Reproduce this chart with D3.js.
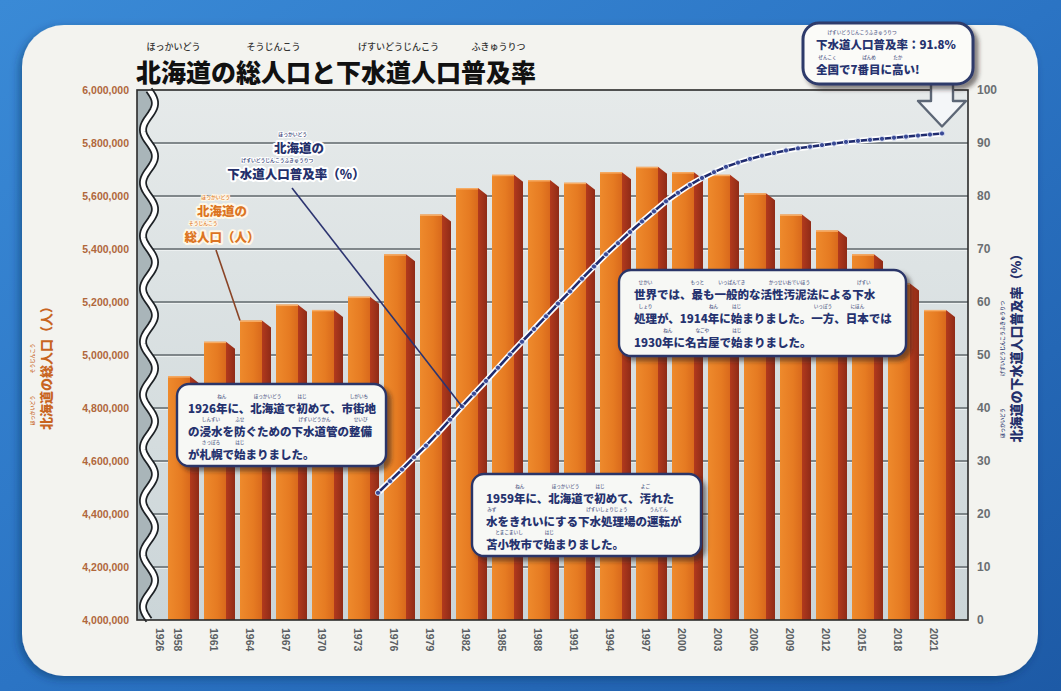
<!DOCTYPE html>
<html>
<head>
<meta charset="utf-8">
<script src="https://cdn.jsdelivr.net/npm/d3@7"></script>
<style>
  body { margin: 0; background: #2a72c2; }
  svg { display: block; }
</style>
</head>
<body>
<script>
// ---- data ----------------------------------------------------------------
const barYears = [1958, 1961, 1964, 1967, 1970, 1973, 1976, 1979, 1982, 1985, 1988,
                  1991, 1994, 1997, 2000, 2003, 2006, 2009, 2012, 2015, 2018, 2021];
const population = [4920000, 5050000, 5130000, 5190000, 5170000, 5220000, 5380000, 5530000,
                    5630000, 5680000, 5660000, 5650000, 5690000, 5710000, 5690000, 5680000,
                    5610000, 5530000, 5470000, 5380000, 5270000, 5170000];
const rateYears = [1974, 1975, 1976, 1977, 1978, 1979, 1980, 1981, 1982, 1983, 1984, 1985,
                   1986, 1987, 1988, 1989, 1990, 1991, 1992, 1993, 1994, 1995, 1996, 1997,
                   1998, 1999, 2000, 2001, 2002, 2003, 2004, 2005, 2006, 2007, 2008, 2009,
                   2010, 2011, 2012, 2013, 2014, 2015, 2016, 2017, 2018, 2019, 2020, 2021];
const sewerRate = [24.0, 26.2, 28.4, 30.7, 32.9, 35.3, 37.8, 40.3, 42.7, 45.1, 47.6, 50.1,
                   52.5, 54.9, 57.3, 59.7, 62.0, 64.4, 66.7, 69.0, 71.1, 73.2, 75.2, 77.1,
                   79.0, 80.6, 82.1, 83.4, 84.5, 85.5, 86.3, 87.0, 87.6, 88.1, 88.6, 89.0,
                   89.3, 89.6, 89.9, 90.2, 90.4, 90.6, 90.8, 91.0, 91.2, 91.4, 91.6, 91.8];
const breakYearLabel = "1926";
const leftTicks = [4000000, 4200000, 4400000, 4600000, 4800000, 5000000,
                   5200000, 5400000, 5600000, 5800000, 6000000];
const rightTicks = [0, 10, 20, 30, 40, 50, 60, 70, 80, 90, 100];

// ---- layout ----------------------------------------------------------------
const W = 1061, H = 691;
const plot = { l: 137, r: 968, t: 90, b: 620 };
const JP = "'Noto Sans CJK JP','Noto Sans',sans-serif";
const NUM = "'Liberation Sans',Arial,sans-serif";
const NAVY = "#24306b";

const svg = d3.select("body").append("svg").attr("width", W).attr("height", H);
const defs = svg.append("defs");

// backdrop + panel
const bg = defs.append("linearGradient").attr("id", "bg").attr("x1", 0).attr("y1", 0).attr("x2", 1).attr("y2", 1);
bg.append("stop").attr("offset", 0).attr("stop-color", "#3a8ad6");
bg.append("stop").attr("offset", 0.5).attr("stop-color", "#2b74c4");
bg.append("stop").attr("offset", 1).attr("stop-color", "#1d5aa6");
svg.append("rect").attr("width", W).attr("height", H).attr("fill", "url(#bg)");

const sh = defs.append("filter").attr("id", "panelShadow").attr("x", -0.05).attr("y", -0.05).attr("width", 1.1).attr("height", 1.1);
sh.append("feDropShadow").attr("dx", -3).attr("dy", 3).attr("stdDeviation", 4).attr("flood-color", "#0b2a55").attr("flood-opacity", 0.45);
svg.append("rect").attr("x", 22).attr("y", 25).attr("width", 1016).attr("height", 651).attr("rx", 42)
  .attr("fill", "#f3f3ef").attr("filter", "url(#panelShadow)");

// ---- scales ----------------------------------------------------------------
const xBar = d3.scalePoint().domain(barYears.map(String)).range([179, 935]);
const step = xBar.step();
const frontW = 22, sideW = 9, sideDrop = 7;
const yL = d3.scaleLinear().domain([4000000, 6000000]).range([plot.b, plot.t]);
const yR = d3.scaleLinear().domain([0, 100]).range([plot.b, plot.t]);
const xLine = d3.scaleLinear().domain([barYears[0], barYears[barYears.length - 1]])
  .range([xBar(String(barYears[0])) + 7, xBar(String(barYears[barYears.length - 1])) + 7]);

// ---- plot background ------------------------------------------------------
const pg = defs.append("linearGradient").attr("id", "plotBg").attr("x1", 0).attr("y1", 0).attr("x2", 0).attr("y2", 1);
pg.append("stop").attr("offset", 0).attr("stop-color", "#e6eaea");
pg.append("stop").attr("offset", 1).attr("stop-color", "#cbd5d8");
svg.append("rect").attr("x", plot.l).attr("y", plot.t).attr("width", plot.r - plot.l).attr("height", plot.b - plot.t)
  .attr("fill", "url(#plotBg)");

defs.append("clipPath").attr("id", "plotClip").append("rect")
  .attr("x", plot.l).attr("y", plot.t).attr("width", plot.r - plot.l).attr("height", plot.b - plot.t);

// gridlines (shared by both axes)
const grid = svg.append("g");
leftTicks.slice(1, -1).forEach(v => {
  grid.append("line").attr("x1", plot.l).attr("x2", plot.r).attr("y1", yL(v) + 1.2).attr("y2", yL(v) + 1.2)
    .attr("stroke", "#f4f6f6").attr("stroke-width", 1);
  grid.append("line").attr("x1", plot.l).attr("x2", plot.r).attr("y1", yL(v)).attr("y2", yL(v))
    .attr("stroke", "#5f676b").attr("stroke-width", 1.3);
});

// ---- bars --------------------------------------------------------------------
const fg = defs.append("linearGradient").attr("id", "front").attr("x1", 0).attr("x2", 1).attr("y1", 0).attr("y2", 0);
fg.append("stop").attr("offset", 0).attr("stop-color", "#ee8a2c");
fg.append("stop").attr("offset", 0.6).attr("stop-color", "#e67b22");
fg.append("stop").attr("offset", 1).attr("stop-color", "#d9691c");
const sg = defs.append("linearGradient").attr("id", "side").attr("x1", 0).attr("x2", 1).attr("y1", 0).attr("y2", 0);
sg.append("stop").attr("offset", 0).attr("stop-color", "#b23a1d");
sg.append("stop").attr("offset", 1).attr("stop-color", "#8f2b17");

const bars = svg.append("g").attr("clip-path", "url(#plotClip)");
barYears.forEach((yr, i) => {
  const c = xBar(String(yr));
  const top = yL(population[i]);
  const x0 = c - frontW / 2, x1 = c + frontW / 2;
  bars.append("path")
    .attr("d", `M${x1},${top}L${x1 + sideW},${top + sideDrop}L${x1 + sideW},${plot.b}L${x1},${plot.b}Z`)
    .attr("fill", "url(#side)");
  bars.append("rect").attr("x", x0).attr("y", top).attr("width", frontW).attr("height", plot.b - top)
    .attr("fill", "url(#front)");
  bars.append("line").attr("x1", x0).attr("x2", x1).attr("y1", top + 0.7).attr("y2", top + 0.7)
    .attr("stroke", "#f7ad66").attr("stroke-width", 1.4);
});

// ---- axis break (wavy band) --------------------------------------------------
const waveCx = 149, waveA = 6, waveP = (plot.b - plot.t) / 10;
const wavePts = d3.range(plot.t, plot.b + 1, 2).map(y => [waveCx + waveA * Math.sin((y - plot.t) / waveP * 2 * Math.PI), y]);
svg.append("path")
  .attr("d", `M${plot.l},${plot.t}` + wavePts.map(p => `L${p[0]},${p[1]}`).join("") + `L${plot.l},${plot.b}Z`)
  .attr("fill", "#a9b5b9");
const waveLine = d3.line();
svg.append("path").attr("d", waveLine(wavePts)).attr("fill", "none").attr("stroke", "#1e2226").attr("stroke-width", 8);
svg.append("path").attr("d", waveLine(wavePts)).attr("fill", "none").attr("stroke", "#ffffff").attr("stroke-width", 4.5);

// frame
svg.append("rect").attr("x", plot.l).attr("y", plot.t).attr("width", plot.r - plot.l).attr("height", plot.b - plot.t)
  .attr("fill", "none").attr("stroke", "#2a2a2a").attr("stroke-width", 1.6);

// ---- axes ---------------------------------------------------------------------
const axL = svg.append("g").attr("transform", `translate(${plot.l - 8},0)`)
  .call(d3.axisLeft(yL).tickValues(leftTicks).tickSize(0).tickPadding(0).tickFormat(d3.format(",")));
axL.select(".domain").remove();
axL.selectAll("text").attr("font-family", NUM).attr("font-size", 10.5).attr("font-weight", 700).attr("fill", "#b0673c");

const axR = svg.append("g").attr("transform", `translate(${plot.r + 9},0)`)
  .call(d3.axisRight(yR).tickValues(rightTicks).tickSize(0).tickPadding(0));
axR.select(".domain").remove();
axR.selectAll("text").attr("font-family", NUM).attr("font-size", 12).attr("font-weight", 700).attr("fill", "#6a6e72");

// year labels (rotated)
const xLabels = [breakYearLabel, ...barYears.map(String)];
const xLabelPos = d => d === breakYearLabel ? xBar(String(barYears[0])) - step / 2 : xBar(d);
svg.append("g").selectAll("text").data(xLabels).join("text")
  .attr("transform", d => `translate(${xLabelPos(d) - 1},${plot.b + 8}) rotate(90)`)
  .attr("dy", "0.35em")
  .attr("font-family", NUM).attr("font-size", 10.5).attr("font-weight", 700).attr("fill", "#5a5e62")
  .text(d => d);

// ---- ruby text helper ---------------------------------------------------------
// draws a line of text with small furigana centred over the marked segments
function ruby(parent, x, y, segs, o) {
  const g = parent.append("g");
  const t = g.append("text").attr("x", x).attr("y", y)
    .attr("font-family", JP).attr("font-size", o.size).attr("font-weight", o.weight || 700).attr("fill", o.fill)
    .text(segs.map(s => s[0]).join(""));
  if (o.halo) t.attr("stroke", o.halo).attr("stroke-width", o.haloW || 3).attr("paint-order", "stroke").attr("stroke-linejoin", "round");
  const node = t.node();
  const widths = [];
  let k = 0;
  segs.forEach(s => { widths.push(node.getSubStringLength(k, s[0].length)); k += s[0].length; });
  const total = d3.sum(widths);
  const x0 = o.anchor === "middle" ? x - total / 2 : x;
  t.attr("x", x0);
  const ry = y - o.size * 1.16 - o.rsize * 0.3 - 0.6;
  let cx = x0;
  segs.forEach((s, i) => {
    if (s[1]) {
      const r = g.append("text").attr("x", cx + widths[i] / 2).attr("y", ry)
        .attr("text-anchor", "middle").attr("font-family", JP).attr("font-size", o.rsize)
        .attr("font-weight", 500).attr("fill", o.rfill || o.fill).text(s[1]);
      if (o.halo) r.attr("stroke", o.halo).attr("stroke-width", 2).attr("paint-order", "stroke");
    }
    cx += widths[i];
  });
  return g;
}

// ---- title ----------------------------------------------------------------------
ruby(svg, 136, 82, [["北海道", "ほっかいどう"], ["の"], ["総人口", "そうじんこう"], ["と"],
  ["下水道人口", "げすいどうじんこう"], ["普及率", "ふきゅうりつ"]],
  { size: 25, rsize: 9, weight: 900, fill: "#111", rfill: "#333" });

// ---- axis titles ------------------------------------------------------------------
const lt = svg.append("g").attr("transform", "translate(51,365) rotate(-90)");
ruby(lt, 0, 0, [["北海道", "ほっかいどう"], ["の"], ["総人口", "そうじんこう"], ["（人）"]],
  { size: 13, rsize: 5, weight: 900, fill: "#c8651f", anchor: "middle" });
const rt = svg.append("g").attr("transform", "translate(1021,345) rotate(-90)");
ruby(rt, 0, 0, [["北海道", "ほっかいどう"], ["の"], ["下水道人口普及率", "げすいどうじんこうふきゅうりつ"], ["（%）"]],
  { size: 13, rsize: 5, weight: 900, fill: NAVY, anchor: "middle" });

// ---- sewerage coverage line --------------------------------------------------------
const ratePts = rateYears.map((yr, i) => [xLine(yr), yR(sewerRate[i])]);
const line = d3.line();
const lineG = svg.append("g");

// series labels with pointers
const popPointerEnd = [xBar("1964") - frontW / 2, yL(population[barYears.indexOf(1964)])];
svg.append("line").attr("x1", 216).attr("y1", 250).attr("x2", popPointerEnd[0]).attr("y2", popPointerEnd[1])
  .attr("stroke", "#8a4426").attr("stroke-width", 1.6);
const ratePointerIdx = rateYears.indexOf(1981);
svg.append("line").attr("x1", 292).attr("y1", 188).attr("x2", ratePts[ratePointerIdx][0]).attr("y2", ratePts[ratePointerIdx][1])
  .attr("stroke", "#2c3470").attr("stroke-width", 1.6);

lineG.append("path").attr("d", line(ratePts)).attr("fill", "none").attr("stroke", "#ffffff").attr("stroke-width", 6)
  .attr("stroke-linejoin", "round");
lineG.append("path").attr("d", line(ratePts)).attr("fill", "none").attr("stroke", "#1f2b6e").attr("stroke-width", 2.6)
  .attr("stroke-linejoin", "round");
lineG.selectAll("circle").data(ratePts).join("circle")
  .attr("cx", d => d[0]).attr("cy", d => d[1]).attr("r", 2.6)
  .attr("fill", "#3a4a96").attr("stroke", "#dfe6f5").attr("stroke-width", 1);

const popLbl = { size: 12.5, rsize: 4.8, weight: 900, fill: "#dc7422", halo: "#fff7e6", haloW: 4, anchor: "middle" };
ruby(svg, 222, 216, [["北海道", "ほっかいどう"], ["の"]], popLbl);
ruby(svg, 222, 242, [["総人口", "そうじんこう"], ["（人）"]], popLbl);
const rateLbl = { size: 12.5, rsize: 4.8, weight: 900, fill: NAVY, halo: "#ffffff", haloW: 4, anchor: "middle" };
ruby(svg, 299, 153, [["北海道", "ほっかいどう"], ["の"]], rateLbl);
ruby(svg, 296, 179, [["下水道人口普及率", "げすいどうじんこうふきゅうりつ"], ["（%）"]], rateLbl);

// ---- note boxes -----------------------------------------------------------------------
const boxShadow = defs.append("filter").attr("id", "boxShadow").attr("x", -0.1).attr("y", -0.2).attr("width", 1.2).attr("height", 1.5);
boxShadow.append("feDropShadow").attr("dx", 4).attr("dy", 4).attr("stdDeviation", 2).attr("flood-color", "#2a1a1a").attr("flood-opacity", 0.55);

const noteStyle = { size: 11.5, rsize: 4.6, weight: 900, fill: "#26336f", rfill: "#55608a" };
function noteBox(x, y, w, h, lines, tx, ty, lh) {
  const g = svg.append("g");
  g.append("rect").attr("x", x).attr("y", y).attr("width", w).attr("height", h).attr("rx", 12)
    .attr("fill", "#f7f8f5").attr("stroke", "#2b3668").attr("stroke-width", 2.4).attr("filter", "url(#boxShadow)");
  lines.forEach((segs, i) => ruby(g, tx, ty + i * lh, segs, noteStyle));
}

noteBox(177, 384, 209, 82, [
  [["1926"], ["年", "ねん"], ["に、"], ["北海道", "ほっかいどう"], ["で"], ["初", "はじ"], ["めて、"], ["市街地", "しがいち"]],
  [["の"], ["浸水", "しんすい"], ["を"], ["防", "ふせ"], ["ぐための"], ["下水道管", "げすいどうかん"], ["の"], ["整備", "せいび"]],
  [["が"], ["札幌", "さっぽろ"], ["で"], ["始", "はじ"], ["まりました。"]]
], 188, 413, 23);

noteBox(472, 474, 229, 82, [
  [["1959"], ["年", "ねん"], ["に、"], ["北海道", "ほっかいどう"], ["で"], ["初", "はじ"], ["めて、"], ["汚", "よご"], ["れた"]],
  [["水", "みず"], ["をきれいにする"], ["下水処理場", "げすいしょりじょう"], ["の"], ["運転", "うんてん"], ["が"]],
  [["苫小牧市", "とまこまいし"], ["で"], ["始", "はじ"], ["まりました。"]]
], 486, 503, 23);

noteBox(619, 270, 287, 86, [
  [["世界", "せかい"], ["では、"], ["最", "もっと"], ["も"], ["一般的", "いっぱんてき"], ["な"], ["活性汚泥法", "かっせいおでいほう"], ["による"], ["下水", "げすい"]],
  [["処理", "しょり"], ["が、1914"], ["年", "ねん"], ["に"], ["始", "はじ"], ["まりました。"], ["一方", "いっぽう"], ["、"], ["日本", "にほん"], ["では"]],
  [["1930"], ["年", "ねん"], ["に"], ["名古屋", "なごや"], ["で"], ["始", "はじ"], ["まりました。"]]
], 634, 299, 24);

// ---- callout for the latest coverage value --------------------------------------------------
const last = ratePts[ratePts.length - 1];
const ax = last[0], tipY = last[1] - 7;
svg.append("path")
  .attr("d", `M${ax - 11},78L${ax - 11},101L${ax - 24},101L${ax},${tipY}L${ax + 24},101L${ax + 11},101L${ax + 11},78Z`)
  .attr("fill", "#f4f6f8").attr("stroke", "#5d6776").attr("stroke-width", 2.4).attr("stroke-linejoin", "round");
const cg = svg.append("g");
cg.append("rect").attr("x", 803).attr("y", 23).attr("width", 170).attr("height", 61).attr("rx", 16)
  .attr("fill", "#fbfbf8").attr("stroke", "#2d3a6b").attr("stroke-width", 3).attr("filter", "url(#boxShadow)");
ruby(cg, 816, 49, [["下水道人口普及率", "げすいどうじんこうふきゅうりつ"], [`：${sewerRate[sewerRate.length - 1]}%`]], noteStyle);
ruby(cg, 816, 74, [["全国", "ぜんこく"], ["で7"], ["番目", "ばんめ"], ["に"], ["高", "たか"], ["い!"]], noteStyle);
</script>
</body>
</html>
